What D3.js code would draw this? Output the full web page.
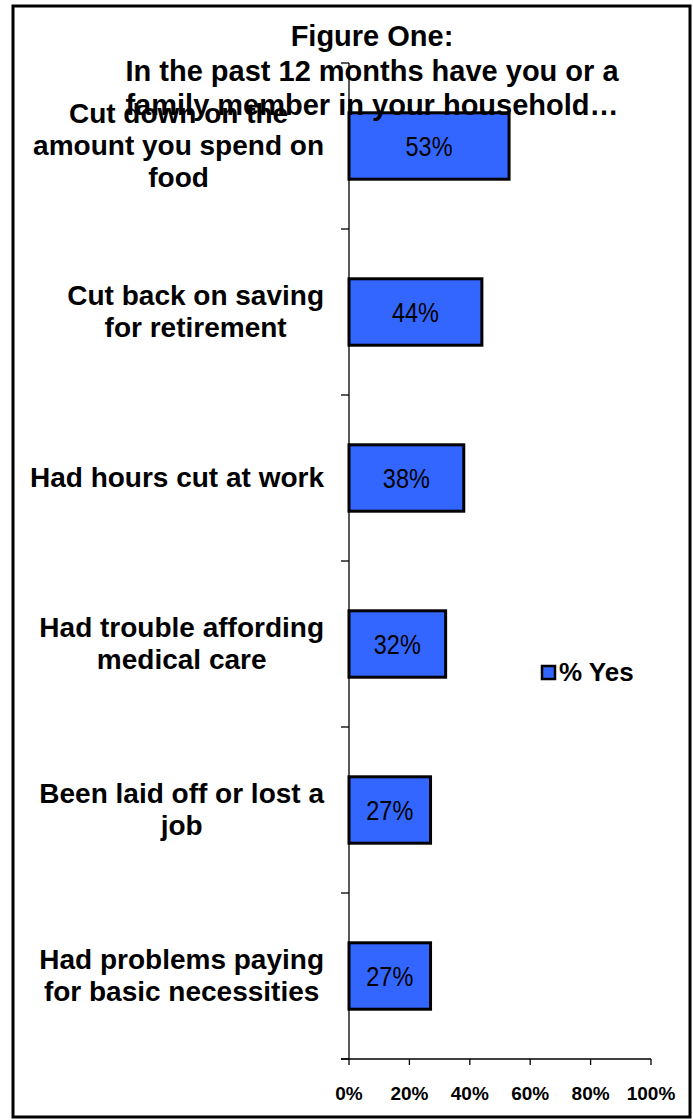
<!DOCTYPE html>
<html>
<head>
<meta charset="utf-8">
<script src="https://cdn.jsdelivr.net/npm/d3@7"></script>
<style>
  body { margin: 0; background: #fff; }
  text { font-family: "Liberation Sans", Arial, sans-serif; fill: #000; }
  .cat-label, .title, .tick-label, .legend-text { font-weight: bold; }
  .axis-line { stroke: #000; stroke-width: 1.3; }
</style>
</head>
<body>
<svg id="chart" width="693" height="1120"></svg>
<script>
// chart data
var categories = [
    ["Cut down on the", "amount you spend on", "food"],
    ["Cut back on saving", "for retirement"],
    ["Had hours cut at work"],
    ["Had trouble affording", "medical care"],
    ["Been laid off or lost a", "job"],
    ["Had problems paying", "for basic necessities"]
];
var yesValues = [53, 44, 38, 32, 27, 27];
var tickValues = [0, 20, 40, 60, 80, 100];
var titleLines = ["Figure One:", "In the past 12 months have you or a", "family member in your household…"];
var seriesName = "% Yes";

var svg = d3.select("#chart");
var margin = {left: 349, top: 63, right: 42, bottom: 61};
var plotW = 693 - margin.left - margin.right;
var plotH = 1120 - margin.top - margin.bottom;

var xScale = d3.scaleLinear().domain([0, 100]).range([margin.left, margin.left + plotW]);
var yScale = d3.scaleBand().domain(d3.range(categories.length))
    .range([margin.top, margin.top + plotH]).paddingInner(0.6).paddingOuter(0.3);
var bandStep = yScale.step();

// outer frame
svg.append("rect")
    .attr("x", 13).attr("y", 6).attr("width", 677).attr("height", 1111)
    .attr("fill", "none").attr("stroke", "#000").attr("stroke-width", 3);

// bars
yesValues.forEach(function(v, i) {
    svg.append("rect")
        .attr("x", xScale(0))
        .attr("y", yScale(i))
        .attr("width", xScale(v) - xScale(0))
        .attr("height", yScale.bandwidth())
        .attr("fill", "#3366ff")
        .attr("stroke", "#000")
        .attr("stroke-width", 3);

    // narrow look: squeeze regular Liberation Sans horizontally
    var cx = (xScale(0) + xScale(v)) / 2;
    svg.append("text")
        .attr("class", "value-label")
        .attr("transform", "translate(" + cx + "," + (yScale(i) + yScale.bandwidth() / 2 + 10) + ") scale(0.84,1)")
        .attr("text-anchor", "middle")
        .attr("font-size", "28px")
        .text(v + "%");
});

// y axis with category ticks
svg.append("line").attr("class", "axis-line")
    .attr("x1", xScale(0)).attr("x2", xScale(0))
    .attr("y1", margin.top).attr("y2", margin.top + plotH);
d3.range(categories.length + 1).forEach(function(i) {
    var y = margin.top + i * bandStep;
    svg.append("line").attr("class", "axis-line")
        .attr("x1", xScale(0) - 8).attr("x2", xScale(0))
        .attr("y1", y).attr("y2", y);
});

// x axis
svg.append("line").attr("class", "axis-line")
    .attr("x1", xScale(0) - 8).attr("x2", xScale(100))
    .attr("y1", margin.top + plotH).attr("y2", margin.top + plotH);
tickValues.forEach(function(t) {
    svg.append("line").attr("class", "axis-line")
        .attr("x1", xScale(t)).attr("x2", xScale(t))
        .attr("y1", margin.top + plotH).attr("y2", margin.top + plotH + 6);
    svg.append("text")
        .attr("class", "tick-label")
        .attr("x", xScale(t))
        .attr("y", margin.top + plotH + 41)
        .attr("text-anchor", "middle")
        .attr("font-size", "19px")
        .text(t + "%");
});

// category labels: lines centred inside a block that is right-aligned near the axis
var labelRight = 324;
categories.forEach(function(lines, i) {
    var cy = yScale(i) + yScale.bandwidth() / 2;
    var g = svg.append("g");
    var texts = lines.map(function(line, j) {
        return g.append("text")
            .attr("class", "cat-label")
            .attr("y", cy + 9 + (j - (lines.length - 1) / 2) * 32)
            .attr("text-anchor", "middle")
            .attr("font-size", "28px")
            .text(line);
    });
    var blockW = d3.max(texts, function(t) { return t.node().getComputedTextLength(); });
    texts.forEach(function(t) { t.attr("x", labelRight - blockW / 2); });
});

// title (drawn after labels, overlaps like the original)
var titleBase = [46, 81, 115];
titleLines.forEach(function(line, j) {
    svg.append("text")
        .attr("class", "title")
        .attr("x", 372)
        .attr("y", titleBase[j])
        .attr("text-anchor", "middle")
        .attr("font-size", "29px")
        .text(line);
});

// legend
svg.append("rect")
    .attr("x", 542).attr("y", 666).attr("width", 13).attr("height", 13)
    .attr("fill", "#3366ff").attr("stroke", "#000").attr("stroke-width", 2.5);
svg.append("text")
    .attr("class", "legend-text")
    .attr("x", 559).attr("y", 681)
    .attr("font-size", "26px")
    .text(seriesName);
</script>
</body>
</html>
